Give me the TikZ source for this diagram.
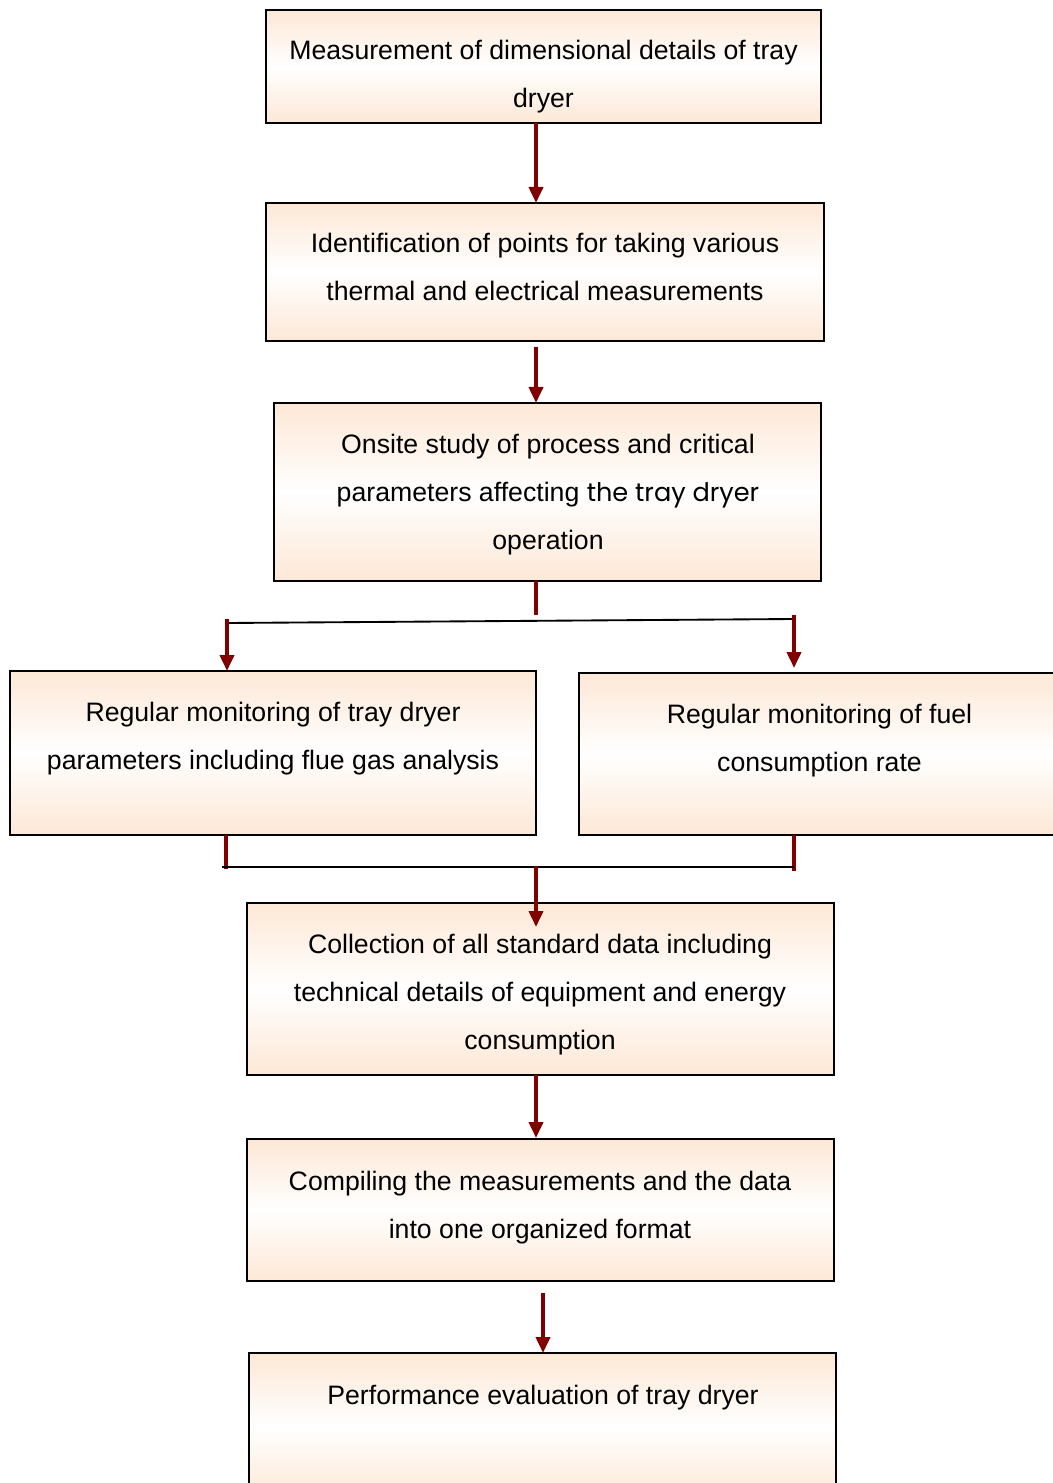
\documentclass[tikz,border=0pt]{standalone}
\usepackage{fontspec}
\setmainfont{Liberation Sans}
\newfontfamily\gothic{Poppins}[Scale=0.96]
\usetikzlibrary{arrows.meta}
\definecolor{peach}{HTML}{FDE8D6}
\definecolor{arrowred}{HTML}{800000}
\tikzset{
  box/.style={draw=black, line width=1.2pt, top color=peach, bottom color=peach, middle color=white, shading angle=0, inner sep=0pt},
  txt/.style={font=\fontsize{20}{36}\selectfont, align=center, anchor=base, inner sep=0pt},
  redarrow/.style={draw=arrowred, line width=2.8pt, -{Triangle[length=12pt,width=10.5pt]}},
  redline/.style={draw=arrowred, line width=2.8pt},
  joinline/.style={draw=black, line width=1.4pt},
}
\begin{document}
\begin{tikzpicture}[x=0.75pt, y=-0.75pt]
\useasboundingbox (0,0) rectangle (1052,1483);
% boxes
\path[box] (266,10) rectangle (821,123);
\node[inner sep=0pt, minimum width=555*0.75pt, minimum height=113*0.75pt] (b1) at (543.5,66.5) {};
\path[box] (266,203) rectangle (824,341);
\node[inner sep=0pt, minimum width=558*0.75pt, minimum height=138*0.75pt] (b2) at (545,272) {};
\path[box] (274,403) rectangle (821,581);
\node[inner sep=0pt, minimum width=547*0.75pt, minimum height=178*0.75pt] (b3) at (547.5,492) {};
\path[box] (10,671) rectangle (536,835);
\node[inner sep=0pt, minimum width=526*0.75pt, minimum height=164*0.75pt] (b4) at (273,753) {};
\path[box] (579,673) rectangle (1062,835);
\node[inner sep=0pt, minimum width=483*0.75pt, minimum height=162*0.75pt] (b5) at (820.5,754) {};
\path[box] (247,903) rectangle (834,1075);
\node[inner sep=0pt, minimum width=587*0.75pt, minimum height=172*0.75pt] (b6) at (540.5,989) {};
\path[box] (247,1139) rectangle (834,1281);
\node[inner sep=0pt, minimum width=587*0.75pt, minimum height=142*0.75pt] (b7) at (540.5,1210) {};
\path[box] (249,1353) rectangle (836,1500);
\node[inner sep=0pt, minimum width=587*0.75pt, minimum height=147*0.75pt] (b8) at (542.5,1426.5) {};
% texts (anchor = baseline of the last line)
\node[txt] (t1) at (543.5,108) {Measurement of dimensional details of tray\\dryer};
\node[txt] (t2) at (545,301) {Identification of points for taking various\\thermal and electrical measurements};
\node[txt] (t3) at (548,549) {Onsite study of process and critical\\parameters affecting {\gothic the tray dryer}\\operation};
\node[txt] (t4) at (273,769) {Regular monitoring of tray dryer\\parameters including flue gas analysis};
\node[txt] (t5) at (819.5,771) {Regular monitoring of fuel\\consumption rate};
\node[txt] (t6) at (540,1049) {Collection of all standard data including\\technical details of equipment and energy\\consumption};
\node[txt] (t7) at (540,1238) {Compiling the measurements and the data\\into one organized format};
\node[txt] (t8) at (543,1404) {Performance evaluation of tray dryer};
% coordinates
\coordinate (a1s) at (536,123);
\coordinate (a1e) at (536,203);
\coordinate (a2s) at (536,347);
\coordinate (a2e) at (536,403);
\coordinate (s3) at (536,581);
\coordinate (s3e) at (536,615);
\coordinate (jl) at (227,623);
\coordinate (jr) at (794,619);
\coordinate (jlt) at (227,619);
\coordinate (jrt) at (794,615);
\coordinate (a4e) at (227,671);
\coordinate (a5e) at (794,668);
\coordinate (s4) at (226,835);
\coordinate (s4e) at (226,869);
\coordinate (s5) at (794,835);
\coordinate (s5e) at (794,871);
\coordinate (kl) at (222,867);
\coordinate (kr) at (794,867);
\coordinate (km) at (536,866);
\coordinate (a6e) at (536,927);
\coordinate (a7s) at (536,1075);
\coordinate (a7e) at (536,1138);
\coordinate (a8s) at (543,1293);
\coordinate (a8e) at (543,1353);
% connectors
\draw[redarrow] (a1s) -- (a1e);
\draw[redarrow] (a2s) -- (a2e);
\draw[redline] (s3) -- (s3e);
\draw[joinline] (jl) -- (jr);
\draw[redarrow] (jlt) -- (a4e);
\draw[redarrow] (jrt) -- (a5e);
\draw[redline] (s4) -- (s4e);
\draw[redline] (s5) -- (s5e);
\draw[joinline] (kl) -- (kr);
\draw[redarrow] (km) -- (a6e);
\draw[redarrow] (a7s) -- (a7e);
\draw[redarrow] (a8s) -- (a8e);
\end{tikzpicture}
\end{document}
